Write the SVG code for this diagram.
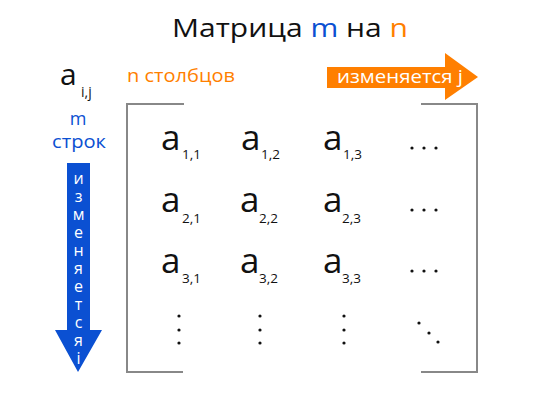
<svg xmlns="http://www.w3.org/2000/svg" width="558" height="402" viewBox="0 0 558 402">
<style>
text{font-family:"Open Sans","Noto Sans","DejaVu Sans",sans-serif;fill:#111}
.a{font-size:35px}
.s{font-size:13.5px}
.w{fill:#fff}
.b{fill:#0b50d2}
.o{fill:#ff7f00}
.br{fill:none;stroke:#888;stroke-width:2}
.d{fill:#111}
.v{writing-mode:vertical-rl;text-orientation:upright}
</style>
<rect width="558" height="402" fill="#fff"/>
<g id="title"><text x="172" y="37" font-size="26" textLength="236" lengthAdjust="spacingAndGlyphs">Матрица <tspan class="b">m</tspan> на <tspan class="o">n</tspan></text></g>
<g id="aij"><text x="60" y="85" font-size="30">a</text><text x="81" y="97" font-size="14">i,j</text></g>
<g id="cols-label"><text class="o" x="127" y="82" font-size="18" textLength="108" lengthAdjust="spacingAndGlyphs">n столбцов</text></g>
<g id="rows-label"><text class="b" x="78" y="125" font-size="18" text-anchor="middle">m</text><text class="b" x="52" y="148" font-size="18" textLength="54" lengthAdjust="spacingAndGlyphs">строк</text></g>
<g id="arrow-j"><polygon class="o" points="327,67 445,67 445,53 478,77 445,100 445,88 327,88"/><text class="w" x="337" y="83" font-size="18" textLength="126" lengthAdjust="spacingAndGlyphs">изменяется j</text></g>
<g id="arrow-i"><polygon class="b" points="67,163 90,163 90,330 102,330 78,372 55,330 67,330"/>
<text class="w v" x="78.5" y="167" font-size="16" letter-spacing="-4">изменяетсяi</text></g>
<g id="brackets"><path class="br" d="M184,104H127V372H183"/><path class="br" d="M421,104H477V372H421"/></g>
<g id="entries">
<g id="a11"><text class="a" x="161" y="150">a</text><text class="s" x="182" y="159">1,1</text></g>
<g id="a12"><text class="a" x="241" y="150">a</text><text class="s" x="261" y="159">1,2</text></g>
<g id="a13"><text class="a" x="323" y="150">a</text><text class="s" x="343" y="159">1,3</text></g>
<g id="a21"><text class="a" x="161" y="212">a</text><text class="s" x="182" y="223">2,1</text></g>
<g id="a22"><text class="a" x="240" y="212">a</text><text class="s" x="259" y="223">2,2</text></g>
<g id="a23"><text class="a" x="323" y="212">a</text><text class="s" x="342" y="223">2,3</text></g>
<g id="a31"><text class="a" x="161" y="273">a</text><text class="s" x="182" y="283">3,1</text></g>
<g id="a32"><text class="a" x="240" y="273">a</text><text class="s" x="259" y="283">3,2</text></g>
<g id="a33"><text class="a" x="323" y="273">a</text><text class="s" x="342" y="283">3,3</text></g>
</g>
<g id="dots" class="d">
<circle cx="412" cy="148" r="1.6"/><circle cx="424" cy="148" r="1.6"/><circle cx="436" cy="148" r="1.6"/>
<circle cx="412" cy="210" r="1.6"/><circle cx="424" cy="210" r="1.6"/><circle cx="436" cy="210" r="1.6"/>
<circle cx="412" cy="271" r="1.6"/><circle cx="424" cy="271" r="1.6"/><circle cx="436" cy="271" r="1.6"/>
<circle cx="179" cy="316" r="1.6"/><circle cx="179" cy="330" r="1.6"/><circle cx="179" cy="343" r="1.6"/>
<circle cx="260" cy="316" r="1.6"/><circle cx="260" cy="330" r="1.6"/><circle cx="260" cy="343" r="1.6"/>
<circle cx="344" cy="316" r="1.6"/><circle cx="344" cy="330" r="1.6"/><circle cx="344" cy="343" r="1.6"/>
<circle cx="419" cy="323" r="1.6"/><circle cx="429" cy="333" r="1.6"/><circle cx="438" cy="342" r="1.6"/>
</g>
</svg>
